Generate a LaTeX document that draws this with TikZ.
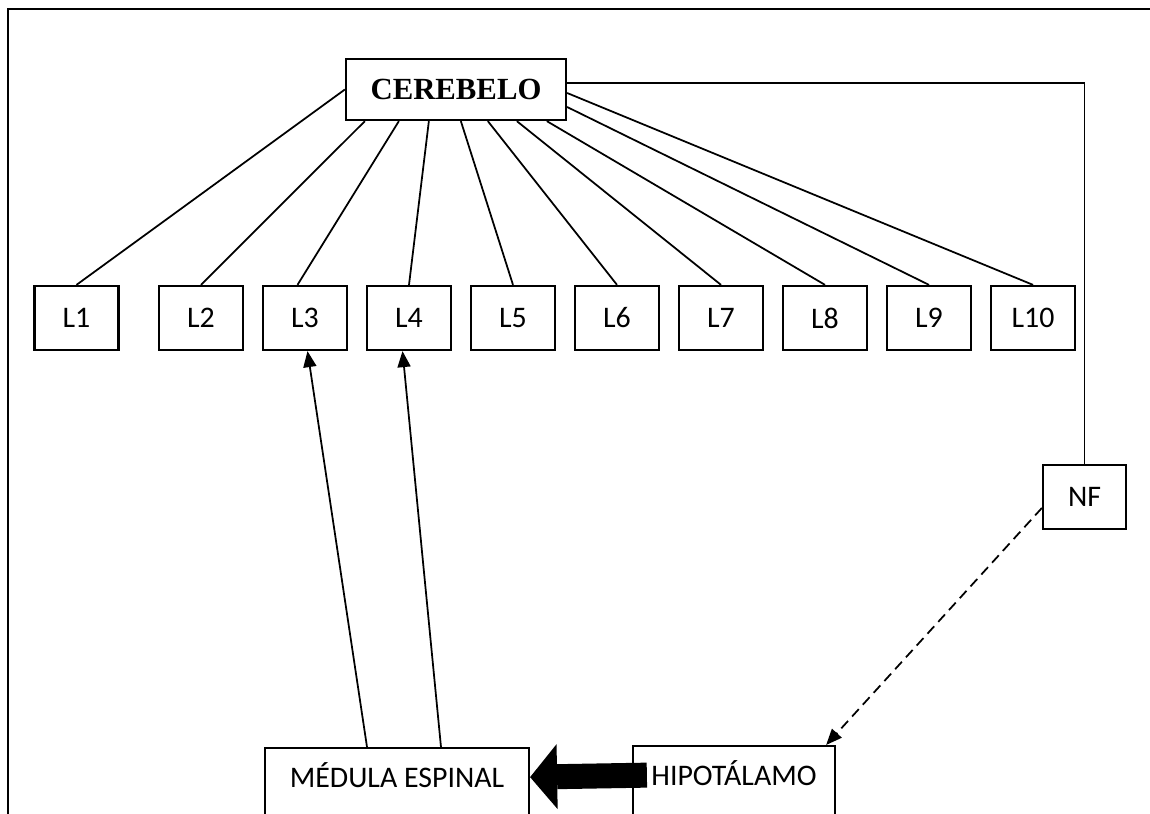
\documentclass[tikz,border=0pt]{standalone}
\usepackage{fontspec}
\setmainfont{Carlito}
\newfontfamily\romana{Liberation Serif}
\usetikzlibrary{arrows.meta}
\tikzset{
  caja/.style={draw, line width=1.3pt, inner sep=0pt, font=\fontsize{17}{20}\selectfont},
  cajal/.style={caja, minimum width=1.68cm, minimum height=1.28cm},
  cajabaja/.style={caja, anchor=north, text height=0.78cm, text depth=1.5cm},
  rama/.style={line width=1pt},
  flecha/.style={line width=1pt, -{Triangle[length=0.32cm,width=0.26cm]}},
}
\begin{document}
\begin{tikzpicture}[x=0.02cm, y=-0.02cm]
    \useasboundingbox (0,0) rectangle (1150,814);
    \clip (0,0) rectangle (1150,814);

    % Marco
    \draw[line width=1.6pt] (1150,9) -| (8,814);
    % Cerebelo
    \node[caja, minimum width=4.4cm, minimum height=1.22cm, font=\romana\bfseries\fontsize{17.5}{20}\selectfont] (cer) at (456,89.5) {CEREBELO};
    % Lobulos
    \node[cajal] (l1) at (76.5,318) {L1};
    \node[cajal] (l2) at (201,318) {L2};
    \node[cajal] (l3) at (305,318) {L3};
    \node[cajal] (l4) at (409,318) {L4};
    \node[cajal] (l5) at (513,318) {L5};
    \node[cajal] (l6) at (617,318) {L6};
    \node[cajal] (l7) at (721,318) {L7};
    \node[cajal] (l8) at (825,318) {L8};
    \node[cajal] (l9) at (929,318) {L9};
    \node[cajal] (l10) at (1033,318) {L10};
    % NF
    \node[cajal, minimum width=1.66cm] (nf) at (1084.5,497) {NF};
    % Medula e hipotalamo
    \node[cajabaja, minimum width=5.28cm] (med) at (397,747) {MÉDULA ESPINAL};
    \node[cajabaja, minimum width=4.04cm] (hipo) at (734,745) {HIPOTÁLAMO};

    % Ramas del cerebelo
    \draw[rama] (cer.west) -- (l1.north);
    \draw[rama] ([xshift=0.4cm]cer.south west) -- (l2.north);
    \draw[rama] ([xshift=1.08cm]cer.south west) -- ([xshift=-0.15cm]l3.north);
    \draw[rama] ([xshift=1.68cm]cer.south west) -- (l4.north);
    \draw[rama] ([xshift=2.32cm]cer.south west) -- (l5.north);
    \draw[rama] ([xshift=2.86cm]cer.south west) -- (l6.north);
    \draw[rama] ([xshift=3.44cm]cer.south west) -- (l7.north);
    \draw[rama] ([xshift=4.04cm]cer.south west) -- (l8.north);
    \draw[rama] ([yshift=-0.35cm]cer.east) -- (l9.north);
    \draw[rama] ([yshift=-0.07cm]cer.east) -- (l10.north);
    \draw[rama] ([yshift=0.13cm]cer.east) -| (nf.north);
    % Medula hacia L3 y L4
    \draw[flecha] ([xshift=-0.6cm]med.north) -- ([xshift=0.05cm]l3.south);
    \draw[flecha] ([xshift=0.88cm]med.north) -- ([xshift=-0.13cm]l4.south);
    % NF hacia hipotalamo
    \draw[flecha, dash pattern=on 0.2cm off 0.12cm] ([yshift=-0.22cm]nf.west) -- ([xshift=-0.2cm]hipo.north east);
    % Flecha gruesa
    \draw[line width=0.5cm, -{Triangle[length=0.54cm,width=1.3cm,line width=0pt]}] ([shift={(0.3cm,0.2cm)}]hipo.base west) -- ([yshift=0.2cm]med.base east);
\end{tikzpicture}
\end{document}
